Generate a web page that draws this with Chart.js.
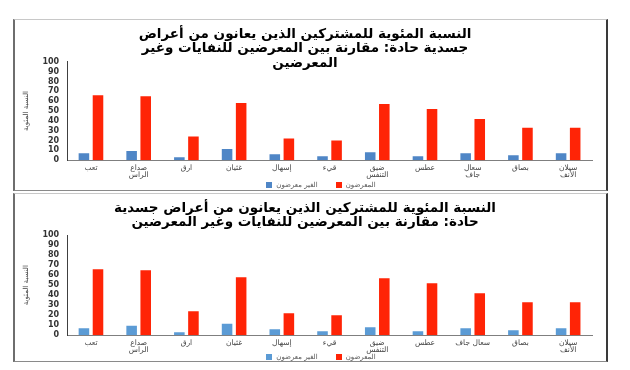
<!DOCTYPE html>
<html>
<head>
<meta charset="utf-8">
<script src="https://cdn.jsdelivr.net/npm/chart.js@4"></script>
<style>
  body { margin: 0; background: #fff; }
  .box {
    position: absolute;
    left: 13px;
    width: 591px;
    background: #fff;
    border-top: 1px solid #c8c8c8;
    border-bottom: 1px solid #8a8a8a;
    border-left: 2px solid #6e6e6e;
    border-right: 2px solid #3a3a3a;
  }
  #box1 { top: 19px; height: 170px; }
  #box2 { top: 193px; height: 167px; }
  .leyenda {
    position: absolute;
    left: 0;
    width: 612px;
    text-align: center;
    font: 7px 'DejaVu Sans', sans-serif;
    color: #555;
    line-height: 8px;
    white-space: nowrap;
  }
  .leyenda span.item {
    display: inline-block;
    unicode-bidi: isolate;
    direction: ltr;
    margin: 0 9px;
  }
  .leyenda i {
    display: inline-block;
    width: 6px;
    height: 6px;
    margin-right: 4px;
    vertical-align: -0.5px;
  }
</style>
</head>
<body>
<div class="box" id="box1"><canvas id="chart1"></canvas><div class="leyenda" id="ley1" style="top:161px"></div></div>
<div class="box" id="box2"><canvas id="chart2"></canvas><div class="leyenda" id="ley2" style="top:159px"></div></div>

<script>
// data
const labelsTop = [
    "تعب", ["صداع", "الراس"], "ارق", "غثيان", "إسهال", "قيء",
    ["ضيق", "التنفس"], "عطس", ["سعال", "جاف"], "بصاق", ["سيلان", "الأنف"]
];
const labelsBottom = [
    "تعب", ["صداع", "الراس"], "ارق", "غثيان", "إسهال", "قيء",
    ["ضيق", "التنفس"], "عطس", "سعال جاف", "بصاق", ["سيلان", "الأنف"]
];
const nonExposed = [7, 9.5, 3, 11.5, 6, 4, 8, 4, 7, 5, 7];
const exposed = [66, 65, 24, 58, 22, 20, 57, 52, 42, 33, 33];

const titleTop = [
    "النسبة المئوية للمشتركين الذين يعانون من أعراض",
    "جسدية حادة: مقارنة بين المعرضين للنفايات وغير",
    "المعرضين"
];
const titleBottom = [
    "النسبة المئوية للمشتركين الذين يعانون من أعراض جسدية",
    "حادة: مقارنة بين المعرضين للنفايات وغير المعرضين"
];
const yTicks = [0, 10, 20, 30, 40, 50, 60, 70, 80, 90, 100];
const yTitle = "النسبة المئوية";
const seriesNames = ["الغير معرضون", "المعرضون"];

const FONT = "'DejaVu Sans', sans-serif";
const RED = "#ff2406";

// =========================
// LEYENDA (html)
// =========================
function leyenda(id, chart) {
    const cont = document.getElementById(id);
    chart.data.datasets.forEach(ds => {
        const item = document.createElement("span");
        item.className = "item";
        const sq = document.createElement("i");
        sq.style.background = ds.backgroundColor;
        const txt = document.createElement("bdi");
        txt.textContent = ds.label;
        item.appendChild(sq);
        item.appendChild(txt);
        cont.appendChild(item);
    });
}

// =========================
// GRÁFICA
// =========================
function dibujar(id, labels, title, titlePadBottom, padBottom, blue) {

    const ctx = document.getElementById(id).getContext("2d");

    return new Chart(ctx, {
        type: "bar",
        data: {
            labels,
            datasets: [{
                label: seriesNames[0],
                data: nonExposed,
                backgroundColor: blue
            }, {
                label: seriesNames[1],
                data: exposed,
                backgroundColor: RED
            }]
        },
        options: {
            responsive: true,
            maintainAspectRatio: false,
            animation: false,
            categoryPercentage: 0.59,
            barPercentage: 0.75,
            layout: { padding: { left: 3, right: 14, top: 0, bottom: padBottom } },
            plugins: {
                title: {
                    display: true,
                    text: title,
                    color: "#000",
                    font: { family: FONT, size: 13.5, weight: "bold", lineHeight: 1.08 },
                    padding: { top: 7, bottom: titlePadBottom }
                },
                legend: { display: false },
                tooltip: { enabled: false }
            },
            scales: {
                x: {
                    grid: { display: false, drawTicks: false },
                    border: { color: "#7f7f7f", width: 1 },
                    ticks: {
                        color: "#444",
                        maxRotation: 0,
                        autoSkip: false,
                        padding: 5,
                        font: { family: FONT, size: 7.5, lineHeight: 0.85 }
                    }
                },
                y: {
                    min: 0,
                    max: 100,
                    afterBuildTicks: axis => {
                        axis.ticks = yTicks.map(v => ({ value: v }));
                    },
                    grid: { display: false, drawTicks: false },
                    border: { color: "#404040", width: 1 },
                    ticks: {
                        color: "#333",
                        autoSkip: false,
                        padding: 8,
                        font: { family: FONT, size: 8, weight: "bold" }
                    },
                    title: {
                        display: true,
                        text: yTitle,
                        color: "#444",
                        font: { family: FONT, size: 7 },
                        padding: { top: 4, bottom: 4 }
                    }
                }
            }
        }
    });
}

const c1 = dibujar("chart1", labelsTop, titleTop, -9, 7, "#4f86c6");
const c2 = dibujar("chart2", labelsBottom, titleBottom, 5, 3, "#5b9bd5");
leyenda("ley1", c1);
leyenda("ley2", c2);
</script>
</body>
</html>
